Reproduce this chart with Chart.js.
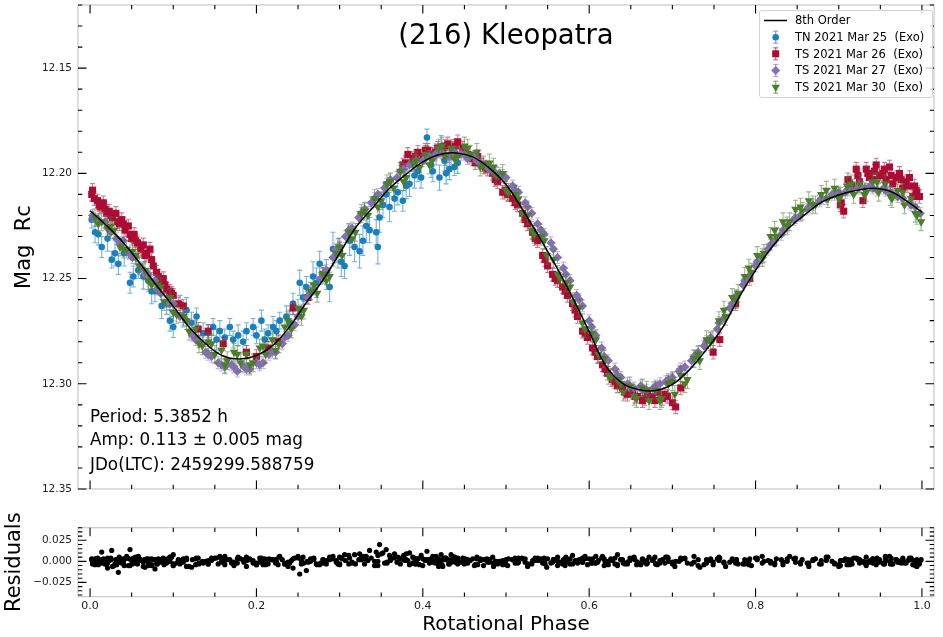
<!DOCTYPE html>
<html><head><meta charset="utf-8">
<script src="https://cdn.jsdelivr.net/npm/chart.js@4/dist/chart.umd.min.js"></script>
<style>
html,body{margin:0;padding:0;background:#fff;}
body{width:943px;height:637px;position:relative;overflow:hidden;font-family:"DejaVu Sans",sans-serif;color:#000;}
canvas{position:absolute;left:0;}
.t{position:absolute;white-space:pre;line-height:1;font-family:"DejaVu Sans",sans-serif;}
</style></head><body>
<canvas id="main" width="943" height="500" style="top:0;width:943px;height:500px"></canvas>
<canvas id="res" width="943" height="137" style="top:500px;width:943px;height:137px"></canvas>
<div class="t" style="left:78px;width:856px;text-align:center;top:21px;font-size:27.5px;">(216) Kleopatra</div>
<div class="t" style="left:90px;top:407.5px;font-size:16.8px;">Period: 5.3852 h</div>
<div class="t" style="left:90px;top:430.8px;font-size:16.8px;">Amp: 0.113 ± 0.005 mag</div>
<div class="t" style="left:90px;top:455.8px;font-size:16.8px;">JDo(LTC): 2459299.588759</div>
<div id="legend" style="position:absolute;left:759px;top:10px;width:172px;height:86px;border:1px solid #d4d4d4;border-radius:3px;background:rgba(255,255,255,0.8);">
<svg width="40" height="90" style="position:absolute;left:-1px;top:-1px">
 <line x1="5" y1="10.5" x2="28" y2="10.5" stroke="#000" stroke-width="1.5"/>
 <g stroke="rgba(26,127,191,0.6)" stroke-width="1.2"><line x1="16.7" y1="21.2" x2="16.7" y2="33.2"/><line x1="14.2" y1="21.2" x2="19.2" y2="21.2"/><line x1="14.2" y1="33.2" x2="19.2" y2="33.2"/></g>
 <circle cx="16.7" cy="27.2" r="3.3" fill="#1a7fbf"/>
 <g stroke="rgba(173,11,52,0.6)" stroke-width="1.2"><line x1="16.7" y1="37.8" x2="16.7" y2="49.8"/><line x1="14.2" y1="37.8" x2="19.2" y2="37.8"/><line x1="14.2" y1="49.8" x2="19.2" y2="49.8"/></g>
 <rect x="13.2" y="40.3" width="7" height="7" fill="#ad0b34"/>
 <g stroke="rgba(132,112,176,0.6)" stroke-width="1.2"><line x1="16.7" y1="54.5" x2="16.7" y2="66.5"/><line x1="14.2" y1="54.5" x2="19.2" y2="54.5"/><line x1="14.2" y1="66.5" x2="19.2" y2="66.5"/></g>
 <polygon points="16.7,56 21.2,60.5 16.7,65 12.2,60.5" fill="#8470b0"/>
 <g stroke="rgba(75,125,42,0.6)" stroke-width="1.2"><line x1="16.7" y1="71.2" x2="16.7" y2="83.2"/><line x1="14.2" y1="71.2" x2="19.2" y2="71.2"/><line x1="14.2" y1="83.2" x2="19.2" y2="83.2"/></g>
 <polygon points="12.5,74.8 20.9,74.8 16.7,82" fill="#4b7d2a"/>
</svg>
<div class="t" style="left:35px;top:4.3px;font-size:11.5px">8th Order</div>
<div class="t" style="left:35px;top:21px;font-size:11.5px">TN 2021 Mar 25  (Exo)</div>
<div class="t" style="left:35px;top:37.6px;font-size:11.5px">TS 2021 Mar 26  (Exo)</div>
<div class="t" style="left:35px;top:54.3px;font-size:11.5px">TS 2021 Mar 27  (Exo)</div>
<div class="t" style="left:35px;top:71.3px;font-size:11.5px">TS 2021 Mar 30  (Exo)</div>
</div>
<script>
// ---------------- data ----------------
const phaseTicks = [0.0, 0.2, 0.4, 0.6, 0.8, 1.0];
const magTicks = [12.15, 12.20, 12.25, 12.30, 12.35];
const resTicks = [-0.025, 0.0, 0.025];

// 8th-order Fourier fit
const fitX = [0.00,0.02,0.04,0.06,0.08,0.10,0.12,0.14,0.16,0.18,0.20,0.22,0.24,0.26,0.28,0.30,0.32,0.34,0.36,0.38,0.40,0.42,0.44,0.46,0.48,0.50,0.52,0.54,0.56,0.58,0.60,0.62,0.64,0.66,0.68,0.70,0.72,0.74,0.76,0.78,0.80,0.82,0.84,0.86,0.88,0.90,0.92,0.94,0.96,0.98,1.00];
const fitY = [12.2178,12.2249,12.2330,12.2428,12.2533,12.2632,12.2735,12.2813,12.2868,12.2882,12.2866,12.2816,12.2728,12.2614,12.2507,12.2380,12.2254,12.2162,12.2071,12.2004,12.1945,12.1910,12.1903,12.1922,12.1975,12.2053,12.2173,12.2303,12.2440,12.2590,12.2752,12.2915,12.2998,12.3028,12.3032,12.3003,12.2935,12.2842,12.2735,12.2590,12.2461,12.2349,12.2260,12.2194,12.2136,12.2103,12.2082,12.2071,12.2083,12.2127,12.2185];

// TN 2021 Mar 25
const blueX = [0.002,0.006,0.014,0.021,0.026,0.034,0.041,0.048,0.058,0.064,0.070,0.078,0.086,0.096,0.100,0.108,0.116,0.122,0.128,0.136,0.148,0.156,0.162,0.168,0.178,0.188,0.196,0.206,0.214,0.220,0.228,0.236,0.244,0.252,0.260,0.268,0.276,0.288,0.292,0.298,0.306,0.312,0.324,0.328,0.336,0.344,0.346,0.348,0.356,0.366,0.376,0.384,0.390,0.398,0.405,0.410,0.416,0.420,0.422,0.426,0.432,0.438,
  0.010,0.030,0.052,0.074,0.092,0.112,0.142,0.152,0.172,0.184,0.200,0.210,0.224,0.240,0.256,0.272,0.284,0.302,0.318,0.332,0.352,0.360,0.370,0.380,0.394,0.412,0.428,0.434,0.442];
const blueY = [12.222,12.228,12.235,12.231,12.241,12.243,12.238,12.252,12.246,12.249,12.251,12.256,12.263,12.270,12.273,12.262,12.265,12.271,12.268,12.276,12.273,12.275,12.278,12.273,12.277,12.275,12.273,12.270,12.276,12.273,12.270,12.268,12.262,12.252,12.254,12.249,12.243,12.254,12.236,12.238,12.244,12.232,12.237,12.232,12.227,12.228,12.235,12.221,12.210,12.212,12.213,12.205,12.201,12.202,12.183,12.196,12.191,12.202,12.187,12.194,12.198,12.197,
  12.229,12.238,12.249,12.256,12.262,12.268,12.276,12.279,12.279,12.280,12.277,12.279,12.275,12.271,12.259,12.252,12.247,12.242,12.235,12.225,12.215,12.216,12.209,12.206,12.199,12.199,12.200,12.192,12.195];
const blueErr = [0.004,0.005,0.005,0.006,0.004,0.005,0.006,0.005,0.004,0.006,0.005,0.005,0.006,0.005,0.005,0.004,0.006,0.005,0.004,0.005,0.004,0.005,0.004,0.004,0.005,0.004,0.004,0.005,0.004,0.005,0.004,0.005,0.005,0.006,0.005,0.007,0.006,0.007,0.008,0.007,0.006,0.007,0.008,0.007,0.006,0.006,0.008,0.007,0.006,0.006,0.005,0.006,0.006,0.005,0.004,0.006,0.005,0.006,0.005,0.005,0.005,0.004,
  0.005,0.006,0.005,0.006,0.005,0.005,0.004,0.005,0.004,0.005,0.004,0.005,0.005,0.006,0.006,0.007,0.006,0.007,0.007,0.008,0.006,0.007,0.006,0.006,0.005,0.005,0.005,0.004,0.005];

// TS 2021 Mar 26
const redX = [0.002,0.005,0.009,0.012,0.016,0.020,0.023,0.027,0.031,0.035,0.038,0.042,0.046,0.050,0.053,0.057,0.061,0.064,0.068,0.072,0.076,0.080,0.084,0.088,0.092,0.096,0.100,0.106,0.112,0.130,0.142,0.160,0.188,0.200,0.214,0.226,0.244,0.262,0.280,0.300,0.376,0.382,0.388,0.394,0.400,0.406,0.412,0.418,0.424,0.430,0.436,0.442,0.448,0.454,0.460,0.466,0.472,0.478,0.484,0.490,0.496,0.502,0.508,0.514,0.520,0.526,0.532,0.538,0.544,0.550,0.556,0.562,0.568,0.574,0.580,0.586,0.592,0.598,0.604,0.610,0.616,0.622,0.628,0.634,0.640,0.646,0.652,0.658,0.664,0.670,0.676,0.682,0.688,0.694,0.700,0.704,0.710,0.749,0.757,0.776,0.793,0.902,0.906,0.911,0.916,0.921,0.925,0.929,0.933,0.937,0.941,0.945,0.949,0.953,0.957,0.961,0.965,0.969,0.973,0.977,0.981,0.985,0.989,0.991,0.994,0.997,
  0.003,0.011,0.018,0.025,0.033,0.040,0.048,0.055,0.066,0.074,0.082,0.090,0.098,0.379,0.391,0.403,0.415,0.427,0.439,0.451,0.463,0.475,0.487,0.499,0.511,0.523,0.535,0.547,0.559,0.571,0.583,0.595,0.607,0.619,0.631,0.643,0.655,0.667,0.679,0.691,0.903,0.913,0.923,0.935,0.943,0.955,0.963,0.975,0.983,0.993];
const redY = [12.210,12.212,12.213,12.216,12.214,12.219,12.218,12.221,12.219,12.224,12.222,12.227,12.225,12.231,12.229,12.233,12.236,12.234,12.238,12.236,12.244,12.247,12.252,12.250,12.255,12.256,12.258,12.262,12.263,12.274,12.275,12.281,12.285,12.287,12.283,12.280,12.264,12.259,12.248,12.236,12.196,12.191,12.193,12.190,12.192,12.189,12.191,12.188,12.190,12.186,12.188,12.185,12.188,12.191,12.193,12.192,12.196,12.198,12.200,12.204,12.209,12.210,12.212,12.215,12.219,12.224,12.228,12.232,12.239,12.244,12.248,12.251,12.254,12.258,12.262,12.268,12.275,12.278,12.283,12.287,12.291,12.295,12.298,12.301,12.302,12.305,12.304,12.306,12.308,12.305,12.306,12.304,12.307,12.306,12.309,12.311,12.302,12.285,12.279,12.262,12.250,12.215,12.218,12.203,12.206,12.198,12.204,12.213,12.198,12.202,12.203,12.196,12.201,12.200,12.203,12.197,12.205,12.202,12.200,12.207,12.204,12.202,12.211,12.206,12.209,12.211,
  12.208,12.215,12.217,12.220,12.223,12.224,12.229,12.232,12.239,12.241,12.249,12.253,12.257,12.195,12.192,12.189,12.190,12.187,12.187,12.190,12.195,12.197,12.203,12.208,12.214,12.222,12.231,12.241,12.250,12.256,12.265,12.276,12.285,12.293,12.299,12.304,12.306,12.307,12.308,12.305,12.214,12.205,12.201,12.200,12.199,12.198,12.201,12.203,12.206,12.208];
const redErr = 0.0032;

// TS 2021 Mar 27
const purpleX = [0.003,0.010,0.018,0.025,0.032,0.040,0.047,0.055,0.062,0.070,0.078,0.085,0.093,0.100,0.108,0.116,0.123,0.131,0.139,0.146,0.154,0.162,0.170,0.177,0.185,0.192,0.200,0.208,0.215,0.223,0.231,0.238,0.246,0.254,0.261,0.269,0.277,0.284,0.292,0.300,0.307,0.315,0.323,0.330,0.338,0.346,0.354,0.361,0.369,0.377,0.384,0.392,0.400,0.408,0.415,0.423,0.431,0.438,0.446,0.454,0.462,0.469,0.477,0.485,0.492,0.500,0.508,0.515,0.523,0.531,0.538,0.546,0.554,0.562,0.569,0.577,0.585,0.592,0.600,0.608,0.615,0.623,0.631,0.638,0.646,0.654,0.662,0.669,0.677,0.685,0.692,0.700,0.708,0.715,0.723,0.731,0.738,0.746,0.754,0.762,0.769,0.777,0.785,0.792,0.800,0.808,0.815,0.823,0.831,0.838,0.846,0.854,0.862,0.869,0.877,0.885,0.892,0.900,0.908,0.915,0.923,0.931,0.938,0.946,0.954,0.962,0.969,0.977,0.985,0.992,0.998,
  0.007,0.021,0.036,0.051,0.066,0.081,0.096,0.112,0.127,0.142,0.158,0.173,0.188,0.204,0.219,0.234,0.250,0.265,0.280,0.296,0.311,0.326,0.342,0.357,0.373,0.388,0.403,0.419,0.434,0.450,0.465,0.480,0.496,0.511,0.526,0.542,0.557,0.572,0.588,0.603,0.618,0.634,0.649,0.664,0.680,0.695,0.710,0.726,0.741,0.756,0.772,0.787,0.802,0.818,0.833,0.848,0.864,0.879,0.895,0.910,0.925,0.941,0.956,0.971,0.987];
const purpleY = [12.220,12.222,12.223,12.228,12.231,12.232,12.238,12.240,12.245,12.248,12.251,12.257,12.261,12.262,12.268,12.270,12.277,12.280,12.285,12.287,12.290,12.292,12.291,12.294,12.292,12.293,12.290,12.290,12.286,12.285,12.281,12.277,12.272,12.265,12.259,12.255,12.250,12.246,12.240,12.235,12.230,12.226,12.221,12.217,12.214,12.210,12.207,12.203,12.202,12.198,12.196,12.194,12.194,12.192,12.191,12.190,12.192,12.190,12.191,12.193,12.192,12.195,12.197,12.199,12.200,12.202,12.206,12.209,12.214,12.219,12.224,12.229,12.233,12.240,12.245,12.251,12.258,12.263,12.270,12.277,12.283,12.289,12.293,12.297,12.300,12.302,12.301,12.303,12.302,12.300,12.299,12.297,12.294,12.292,12.289,12.285,12.282,12.278,12.274,12.269,12.264,12.258,12.253,12.249,12.244,12.240,12.236,12.232,12.229,12.225,12.222,12.220,12.217,12.215,12.213,12.212,12.210,12.209,12.209,12.208,12.207,12.207,12.206,12.208,12.207,12.209,12.210,12.212,12.214,12.216,12.219,
  12.222,12.226,12.233,12.240,12.248,12.255,12.262,12.268,12.279,12.286,12.291,12.292,12.293,12.291,12.285,12.278,12.268,12.257,12.248,12.236,12.227,12.219,12.212,12.205,12.199,12.196,12.193,12.190,12.191,12.191,12.194,12.198,12.201,12.208,12.216,12.227,12.236,12.248,12.260,12.273,12.287,12.296,12.301,12.303,12.301,12.298,12.293,12.287,12.280,12.271,12.262,12.251,12.242,12.234,12.227,12.221,12.216,12.212,12.210,12.208,12.206,12.207,12.208,12.211,12.215];
const purpleErr = 0.0028;

// TS 2021 Mar 30
const greenX = [0.006,0.014,0.021,0.029,0.036,0.044,0.051,0.059,0.066,0.074,0.081,0.089,0.096,0.104,0.112,0.119,0.127,0.135,0.142,0.150,0.158,0.165,0.173,0.181,0.188,0.196,0.204,0.211,0.219,0.227,0.234,0.242,0.250,0.257,0.265,0.273,0.280,0.288,0.296,0.303,0.311,0.319,0.326,0.334,0.342,0.350,0.357,0.365,0.373,0.380,0.388,0.396,0.403,0.411,0.419,0.427,0.434,0.442,0.450,0.457,0.465,0.473,0.480,0.488,0.496,0.503,0.511,0.519,0.526,0.534,0.542,0.549,0.557,0.565,0.572,0.580,0.588,0.595,0.603,0.611,0.618,0.626,0.634,0.641,0.649,0.657,0.664,0.672,0.680,0.687,0.695,0.703,0.710,0.718,0.726,0.733,0.741,0.749,0.756,0.764,0.772,0.779,0.787,0.795,0.802,0.810,0.818,0.825,0.833,0.841,0.848,0.856,0.864,0.872,0.879,0.887,0.895,0.902,0.910,0.918,0.925,0.933,0.941,0.948,0.956,0.964,0.971,0.979,0.987,0.994,0.999,
  0.010,0.025,0.040,0.055,0.070,0.085,0.100,0.116,0.131,0.146,0.162,0.177,0.192,0.208,0.223,0.238,0.254,0.269,0.284,0.300,0.315,0.330,0.346,0.361,0.377,0.392,0.408,0.423,0.438,0.454,0.469,0.485,0.500,0.515,0.531,0.546,0.562,0.577,0.592,0.608,0.623,0.638,0.654,0.669,0.685,0.700,0.715,0.731,0.746,0.762,0.777,0.792,0.808,0.823,0.838,0.854,0.869,0.885,0.900,0.915,0.931,0.946,0.962,0.977,0.992];
const greenY = [12.221,12.223,12.226,12.227,12.235,12.236,12.237,12.244,12.246,12.253,12.253,12.261,12.259,12.267,12.268,12.275,12.274,12.282,12.280,12.286,12.284,12.289,12.285,12.290,12.286,12.290,12.283,12.286,12.279,12.281,12.273,12.274,12.264,12.265,12.256,12.257,12.248,12.249,12.238,12.239,12.228,12.228,12.219,12.220,12.212,12.213,12.205,12.207,12.199,12.202,12.195,12.197,12.191,12.194,12.188,12.192,12.188,12.192,12.187,12.191,12.190,12.196,12.195,12.201,12.200,12.209,12.210,12.219,12.220,12.229,12.230,12.239,12.241,12.250,12.252,12.261,12.264,12.274,12.276,12.286,12.288,12.297,12.298,12.304,12.301,12.307,12.302,12.308,12.303,12.307,12.300,12.305,12.296,12.298,12.288,12.289,12.279,12.279,12.270,12.268,12.259,12.257,12.249,12.247,12.239,12.238,12.230,12.230,12.223,12.223,12.217,12.218,12.213,12.215,12.210,12.212,12.207,12.211,12.206,12.210,12.205,12.209,12.204,12.209,12.205,12.212,12.208,12.215,12.212,12.220,12.223,
  12.224,12.225,12.236,12.239,12.251,12.254,12.266,12.270,12.281,12.281,12.291,12.286,12.291,12.282,12.284,12.270,12.268,12.253,12.251,12.235,12.231,12.218,12.216,12.204,12.204,12.194,12.196,12.187,12.193,12.188,12.197,12.197,12.208,12.212,12.227,12.232,12.248,12.254,12.271,12.279,12.296,12.300,12.306,12.303,12.308,12.299,12.300,12.286,12.280,12.265,12.260,12.245,12.240,12.227,12.225,12.216,12.215,12.208,12.212,12.205,12.210,12.204,12.211,12.209,12.219];
const greenErr = 0.0042;

// residuals (observed - fit), millimag, one per observation in the same order
const resBlueMmag = [3,-4,11,-8,13,-13,-5,14,6,-6,3,-9,1,5,8,-3,2,-7,4,-2,3,6,-4,2,5,-6,1,4,-3,2,6,-2,-8,-15,-11,3,-4,2,6,-3,8,4,9,6,13,11,7,20,14,9,5,10,4,7,12,3,6,-2,8,4,-3,5,
  2,-3,4,-5,1,3,-2,4,-1,2,-4,3,0,-2,5,-3,1,4,8,6,10,7,5,9,3,6,4,8,2];
const resRedMmag = [2,-3,4,-1,3,-4,1,-6,2,5,-2,3,-5,1,4,-3,2,-1,3,-4,2,-3,1,4,-2,3,-5,2,-1,4,-3,2,5,-2,1,-4,3,-1,2,-3,4,1,-2,3,-5,2,-1,3,-6,2,1,-3,4,-2,3,-4,2,-1,5,-3,1,-5,2,-2,3,-4,1,4,-2,3,-1,5,-3,2,7,-2,4,-4,3,-1,6,-2,1,-5,2,-3,4,-1,3,-2,1,-4,2,5,-3,0,2,-1,4,-2,3,-5,1,2,-3,4,-2,0,5,-1,3,-4,2,-2,1,6,-3,2,-1,4,-2,3,-4,1,2,-3,
  -3,2,-1,4,-2,3,-5,1,2,-4,3,-2,5,1,-3,2,-2,4,-1,3,-4,2,0,-2,3,-1,4,-3,2,-5,1,3,-2,0,4,-3,2,-1,5,-2,1,-4,3,-1,2,-3,4,-2,1,-3];
const resPurpleMmag = [-2,1,-3,2,-4,0,3,-2,1,-5,2,-1,3,-3,1,-6,2,-2,0,4,-3,1,-2,3,-1,2,-4,1,3,-2,2,-1,4,-3,0,2,-2,1,3,-4,1,-1,2,-3,4,0,-2,3,-1,2,-4,1,3,-2,0,2,-3,4,-1,2,-5,1,3,-2,0,-4,2,-1,3,-3,1,4,-2,0,2,-3,1,-1,3,-2,4,0,-3,2,-1,3,-4,1,2,-2,5,-1,0,3,-3,2,-4,1,3,-2,-1,2,-3,0,4,-2,1,-4,2,0,3,-1,-2,2,-3,1,0,-4,3,-1,2,-2,1,3,-3,0,2,-1,4,-2,1,
  1,-2,3,-1,2,-3,0,2,-4,1,3,-2,1,-1,2,-3,4,0,-2,1,-3,2,0,-1,3,-2,1,-4,2,0,3,-1,-2,4,-3,1,2,-1,0,-2,3,-4,1,2,-3,0,4,-1,-2,1,3,-3,2,0,-1,4,-2,1,-3,2,0,-2,3,-1,2];
const resGreenMmag = [3,-2,4,-5,1,6,-3,2,-7,3,1,-4,5,-2,2,-6,3,0,-3,4,-1,2,-5,3,1,-2,4,-4,2,5,-3,1,6,-2,3,-4,2,5,-1,3,7,-3,4,1,-5,9,-2,4,-3,2,5,-4,1,3,-6,2,-1,4,-3,1,5,-5,2,0,-4,3,-2,4,-6,1,3,-7,2,-1,5,-3,2,6,-2,1,-5,3,8,-2,4,-4,2,5,-3,1,4,-6,3,-2,6,-7,2,-4,5,-6,1,-3,2,-5,4,0,-2,3,-4,6,-1,2,-6,3,-3,5,-2,1,-4,4,2,-5,3,-1,6,-3,1,-2,4,-6,2,
  -4,3,-2,5,-1,2,-5,4,-3,1,6,-2,3,-4,2,-6,1,4,-3,5,-2,3,-5,1,7,-3,2,-4,5,-1,3,-6,2,4,-2,1,-5,3,-1,6,-4,2,5,-3,1,-2,4,-5,3,-1,2,-4,6,-2,3,-3,1,5,-6,2,-1,4,-3,2,-5];

// ---------------- helpers ----------------
function pts(xs, ys, scale){ const k = scale || 1; const n = Math.min(xs.length, ys.length); const out=[]; for(let i=0;i<n;i++) out.push({x:xs[i], y:ys[i]*k}); return out; }

const errorBars = {
  id:'errorBars',
  beforeDatasetDraw(chart, args){
    const ds = chart.data.datasets[args.index];
    if (ds.errors === undefined) return;
    const ctx = chart.ctx, xs = chart.scales.x, ys = chart.scales.y;
    ctx.save();
    ctx.strokeStyle = ds.errColor; ctx.lineWidth = 1.1;
    ctx.beginPath();
    ds.data.forEach((p,i)=>{
      const e = Array.isArray(ds.errors) ? (ds.errors[i] ?? ds.errors[ds.errors.length-1]) : ds.errors;
      const px = xs.getPixelForValue(p.x);
      const y1 = ys.getPixelForValue(p.y - e), y2 = ys.getPixelForValue(p.y + e);
      ctx.moveTo(px, y1); ctx.lineTo(px, y2);
      ctx.moveTo(px-2.5, y1); ctx.lineTo(px+2.5, y1);
      ctx.moveTo(px-2.5, y2); ctx.lineTo(px+2.5, y2);
    });
    ctx.stroke();
    ctx.restore();
  }
};

function frameTicks(yMinorVals, yMajorTest){
  return {
    id:'frameTicks',
    afterDatasetsDraw(chart){
      const {ctx, chartArea:a, scales:{x, y}} = chart;
      ctx.save();
      ctx.strokeStyle = '#cccccc'; ctx.lineWidth = 1.3;
      ctx.strokeRect(a.left, a.top, a.right - a.left, a.bottom - a.top);
      ctx.strokeStyle = '#000'; ctx.lineWidth = 1.1;
      ctx.beginPath();
      for (let k = 0; k <= 20; k++){
        const v = k * 0.05, len = (k % 4 === 0) ? 8.5 : 4.3;
        const px = x.getPixelForValue(v);
        ctx.moveTo(px, a.top); ctx.lineTo(px, a.top + len);
        ctx.moveTo(px, a.bottom); ctx.lineTo(px, a.bottom - len);
      }
      yMinorVals.forEach(v => {
        if (v < Math.min(y.min, y.max) - 1e-9 || v > Math.max(y.min, y.max) + 1e-9) return;
        const len = yMajorTest(v) ? 8.5 : 4.3;
        const py = y.getPixelForValue(v);
        ctx.moveTo(a.left, py); ctx.lineTo(a.left + len, py);
        ctx.moveTo(a.right, py); ctx.lineTo(a.right - len, py);
      });
      ctx.stroke();
      ctx.restore();
    }
  };
}
function noPad(s){ s.paddingTop = 0; s.paddingBottom = 0; s.paddingLeft = 0; s.paddingRight = 0; }

Chart.defaults.font.family = '"DejaVu Sans", sans-serif';
Chart.defaults.color = '#222';

const BLUE='#1a7fbf', RED='#ad0b34', PURPLE='#8470b0', GREEN='#4b7d2a';

const magMinor = []; for (let k = 1212; k <= 1235; k++) magMinor.push(k/100);
const resMinor = []; for (let k = -8; k <= 8; k++) resMinor.push(k*0.005);

new Chart(document.getElementById('main'), {
  type:'scatter',
  data:{ datasets:[
    {label:'8th Order', type:'line', data:pts(fitX, fitY), borderColor:'#000', borderWidth:1.5, pointRadius:0, tension:0.4, fill:false, order:0},
    {label:'TS 2021 Mar 30  (Exo)', data:pts(greenX, greenY), errors:greenErr, errColor:'rgba(75,125,42,0.55)', pointStyle:'triangle', rotation:180, pointRadius:4.9, backgroundColor:GREEN, borderColor:GREEN, borderWidth:0, order:1},
    {label:'TS 2021 Mar 27  (Exo)', data:pts(purpleX, purpleY), errors:purpleErr, errColor:'rgba(132,112,176,0.5)', pointStyle:'rectRot', pointRadius:4.6, backgroundColor:PURPLE, borderColor:PURPLE, borderWidth:0, order:2},
    {label:'TS 2021 Mar 26  (Exo)', data:pts(redX, redY), errors:redErr, errColor:'rgba(173,11,52,0.55)', pointStyle:'rect', pointRadius:5, backgroundColor:RED, borderColor:RED, borderWidth:0, order:3},
    {label:'TN 2021 Mar 25  (Exo)', data:pts(blueX, blueY), errors:blueErr, errColor:'rgba(26,127,191,0.6)', pointStyle:'circle', pointRadius:3.3, backgroundColor:BLUE, borderColor:BLUE, borderWidth:0, order:4}
  ]},
  options:{
    responsive:false, animation:false, events:[],
    layout:{padding:{top:5, right:9, bottom:11, left:0}},
    plugins:{legend:{display:false}, tooltip:{enabled:false}, title:{display:false}},
    scales:{
      x:{type:'linear', min:-0.0145, max:1.0145, grid:{display:false, drawTicks:false}, border:{display:false}, ticks:{display:false}, afterFit(s){ s.height = 0; noPad(s); }},
      y:{type:'linear', reverse:true, min:12.12, max:12.35, grid:{display:false, drawTicks:false}, border:{display:false},
         afterBuildTicks(s){ s.ticks = magTicks.map(v => ({value:v})); },
         ticks:{padding:6, font:{size:10.5}, color:'#222', callback:v => Number(v).toFixed(2)},
         title:{display:true, text:'Mag  Rc', color:'#000', font:{size:21}, padding:{top:12, bottom:0}},
         afterFit(s){ s.width = 78; noPad(s); }}
    }
  },
  plugins:[errorBars, frameTicks(magMinor, v => Math.abs(Math.round(v*100) % 5) === 0)]
});

const resStyle = {backgroundColor:'#000', borderColor:'#000', borderWidth:0, pointRadius:2.6};
new Chart(document.getElementById('res'), {
  type:'scatter',
  data:{ datasets:[
    Object.assign({data:pts(blueX, resBlueMmag, 0.001)}, resStyle),
    Object.assign({data:pts(redX, resRedMmag, 0.001)}, resStyle),
    Object.assign({data:pts(purpleX, resPurpleMmag, 0.001)}, resStyle),
    Object.assign({data:pts(greenX, resGreenMmag, 0.001)}, resStyle)
  ]},
  options:{
    responsive:false, animation:false, events:[],
    layout:{padding:{top:27.7, right:9, bottom:0, left:0}},
    plugins:{legend:{display:false}, tooltip:{enabled:false}},
    scales:{
      x:{type:'linear', min:-0.0145, max:1.0145, grid:{display:false, drawTicks:false}, border:{display:false},
         afterBuildTicks(s){ s.ticks = phaseTicks.map(v => ({value:v})); },
         ticks:{padding:3, font:{size:11}, color:'#222', maxRotation:0, autoSkip:false, callback:v => Number(v).toFixed(1)},
         title:{display:true, text:'Rotational Phase', color:'#000', font:{size:20}, padding:{top:0, bottom:0}},
         afterFit(s){ s.height = 40.3; noPad(s); }},
      y:{type:'linear', min:-0.042, max:0.040, grid:{display:false, drawTicks:false}, border:{display:false},
         afterBuildTicks(s){ s.ticks = resTicks.map(v => ({value:v})); },
         ticks:{padding:6, font:{size:10.5}, color:'#222', callback:v => (v < 0 ? '\u2212' : '') + Math.abs(Number(v)).toFixed(3)},
         title:{display:true, text:'Residuals', color:'#000', font:{size:21}, padding:{top:2, bottom:0}},
         afterFit(s){ s.width = 78; noPad(s); }}
    }
  },
  plugins:[frameTicks(resMinor, v => Math.abs(Math.round(v*1000) % 25) === 0)]
});
</script>
</body></html>
